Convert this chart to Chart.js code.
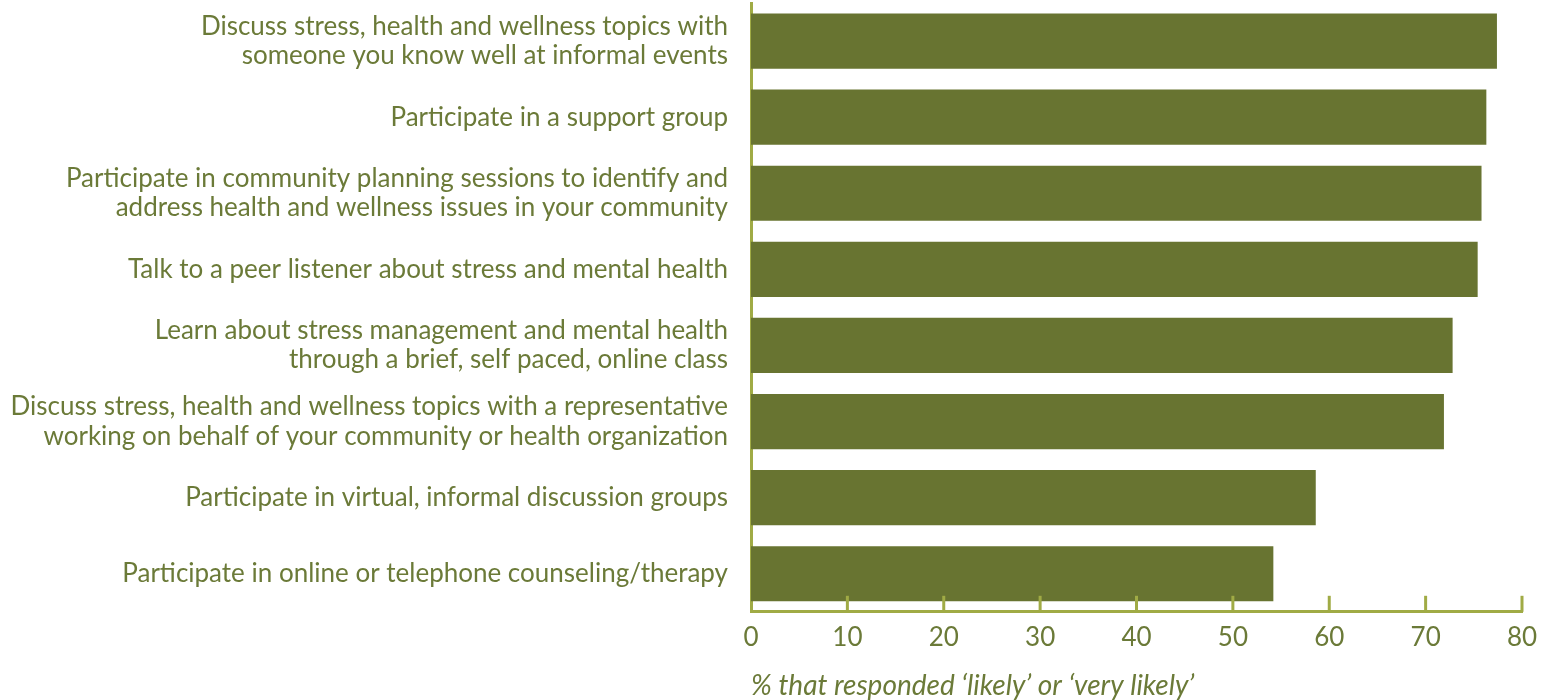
<!DOCTYPE html>
<html>
<head>
<meta charset="utf-8">
<script src="https://cdn.jsdelivr.net/npm/chart.js@4/dist/chart.umd.min.js"></script>
<style>
  html, body { margin: 0; padding: 0; background: #fff; }
  #wrap { width: 1551px; height: 700px; }
</style>
</head>
<body>
<div id="wrap"><canvas id="grafico"></canvas></div>
<script>
const categorias = [
    ['Discuss stress, health and wellness topics with', 'someone you know well at informal events'],
    'Participate in a support group',
    ['Participate in community planning sessions to identify and', 'address health and wellness issues in your community'],
    'Talk to a peer listener about stress and mental health',
    ['Learn about stress management and mental health', 'through a brief, self paced, online class'],
    ['Discuss stress, health and wellness topics with a representative', 'working on behalf of your community or health organization'],
    'Participate in virtual, informal discussion groups',
    'Participate in online or telephone counseling/therapy'
];
const valores = [77.4, 76.3, 75.8, 75.4, 72.8, 71.9, 58.6, 54.2];
const ticksX = [0, 10, 20, 30, 40, 50, 60, 70, 80];

const corBarra = '#687431';
const corEixo = '#a0ab45';
const corTexto = '#6b7a38';
const fonte = 'Lato, "DejaVu Sans", sans-serif';

// tracinhos do eixo x desenhados para dentro da área do gráfico
const tracosInternos = {
    id: 'tracosInternos',
    afterDraw(chart) {
        const ctx = chart.ctx;
        const x = chart.scales.x;
        const base = chart.chartArea.bottom;
        ctx.save();
        ctx.strokeStyle = corEixo;
        ctx.lineWidth = 3;
        ticksX.forEach(function (v) {
            if (v === 0) return;
            const px = x.getPixelForValue(v);
            ctx.beginPath();
            ctx.moveTo(px, base);
            ctx.lineTo(px, base - 16);
            ctx.stroke();
        });
        ctx.restore();
    }
};

function criarGrafico() {
    new Chart(document.getElementById('grafico'), {
        type: 'bar',
        data: {
            labels: categorias,
            datasets: [{
                data: valores,
                backgroundColor: corBarra,
                borderWidth: 0,
                barPercentage: 0.726,
                categoryPercentage: 1
            }]
        },
        options: {
            indexAxis: 'y',
            responsive: true,
            maintainAspectRatio: false,
            animation: false,
            layout: { padding: { top: 3, right: 29, bottom: 0, left: 0 } },
            plugins: {
                legend: { display: false },
                tooltip: { enabled: false }
            },
            scales: {
                x: {
                    min: 0,
                    max: 80,
                    afterBuildTicks: function (scale) {
                        scale.ticks = ticksX.map(function (v) { return { value: v }; });
                    },
                    grid: { display: false, drawTicks: false },
                    border: { display: true, color: corEixo, width: 3 },
                    ticks: {
                        color: corTexto,
                        padding: 10,
                        maxRotation: 0,
                        font: { family: fonte, size: 26, lineHeight: 1.2 }
                    },
                    title: {
                        display: true,
                        align: 'start',
                        text: '% that responded \u2018likely\u2019 or \u2018very likely\u2019',
                        color: corTexto,
                        padding: { top: 9, bottom: 0 },
                        font: { family: fonte, size: 28, style: 'italic', lineHeight: 1 }
                    }
                },
                y: {
                    grid: { display: false, drawTicks: false },
                    border: { display: true, color: corEixo, width: 3 },
                    afterFit: function (scale) {
                        scale.width = 751;
                        scale.paddingTop = 0;
                        scale.paddingBottom = 0;
                    },
                    ticks: {
                        color: corTexto,
                        padding: 23,
                        font: { family: fonte, size: 26, lineHeight: 1.12 }
                    }
                }
            }
        },
        plugins: [tracosInternos]
    });
}

window.onload = function () {
    criarGrafico();
};
</script>
</body>
</html>
